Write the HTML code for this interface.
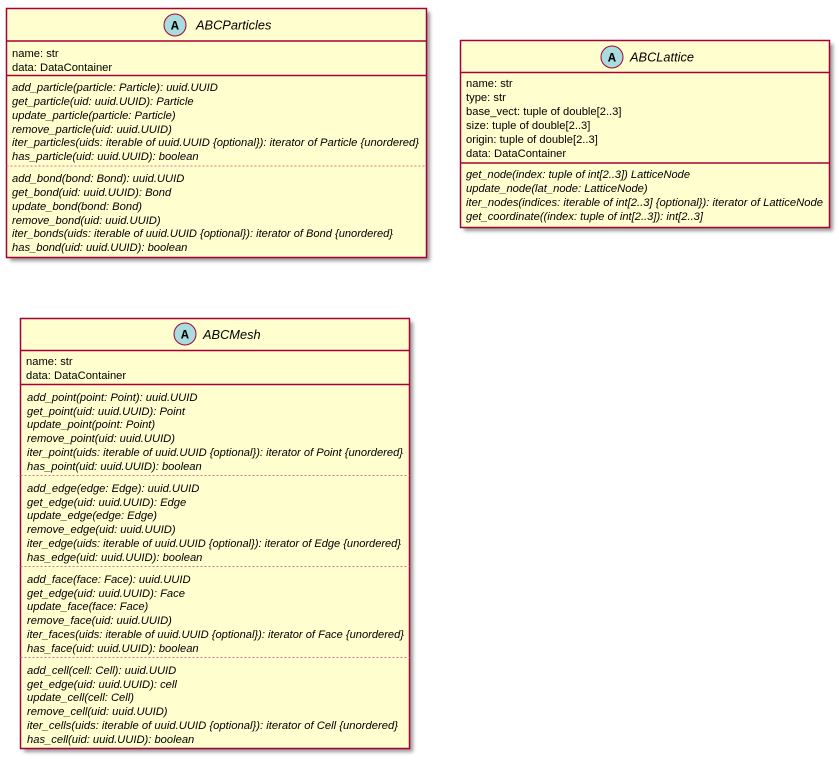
<!DOCTYPE html>
<html><head><meta charset="utf-8"><style>
html,body{margin:0;padding:0;background:#fff;width:839px;height:760px;overflow:hidden}
svg{display:block}
text{font-family:"Liberation Sans",sans-serif;font-size:11.2px;fill:#000}
.i{font-style:italic}
.t{font-size:12.8px;font-style:italic}
.a{font-family:"Liberation Mono",monospace;font-weight:bold;font-size:13px}
.d{stroke:#D9708E;stroke-width:1;stroke-dasharray:2,2}
</style></head><body>
<svg width="839" height="760" viewBox="0 0 839 760" xmlns="http://www.w3.org/2000/svg">
<defs><filter id="sh" x="-5%" y="-5%" width="115%" height="115%"><feGaussianBlur stdDeviation="1.8"/></filter></defs>
<rect x="10" y="12" width="420" height="249" fill="#999" filter="url(#sh)"/>
<rect x="464" y="44" width="369" height="187" fill="#999" filter="url(#sh)"/>
<rect x="24" y="322" width="389" height="430" fill="#999" filter="url(#sh)"/>

<!-- ABCParticles -->
<rect x="6.5" y="8.5" width="420" height="249" fill="#FEFECE" stroke="#A80036" stroke-width="1.5"/>
<circle cx="175" cy="25" r="11" fill="#A9DCDF" stroke="#A80036" stroke-width="1"/>
<text class="a" x="171" y="29.5">A</text>
<text class="t" x="196" y="29.5">ABCParticles</text>
<line x1="6.5" y1="41" x2="426.5" y2="41" stroke="#A80036" stroke-width="1.5"/>
<text x="12" y="57">name: str</text>
<text x="12" y="71">data: DataContainer</text>
<line x1="6.5" y1="75.5" x2="426.5" y2="75.5" stroke="#A80036" stroke-width="1.5"/>
<text class="i" x="12" y="91">add_particle(particle: Particle): uuid.UUID</text>
<text class="i" x="12" y="105">get_particle(uid: uuid.UUID): Particle</text>
<text class="i" x="12" y="119">update_particle(particle: Particle)</text>
<text class="i" x="12" y="133">remove_particle(uid: uuid.UUID)</text>
<text class="i" x="12" y="146" textLength="407" lengthAdjust="spacingAndGlyphs">iter_particles(uids: iterable of uuid.UUID {optional}): iterator of Particle {unordered}</text>
<text class="i" x="12" y="160">has_particle(uid: uuid.UUID): boolean</text>
<line x1="6.5" y1="166" x2="426.5" y2="166" class="d"/>
<text class="i" x="12" y="182">add_bond(bond: Bond): uuid.UUID</text>
<text class="i" x="12" y="196">get_bond(uid: uuid.UUID): Bond</text>
<text class="i" x="12" y="210">update_bond(bond: Bond)</text>
<text class="i" x="12" y="224">remove_bond(uid: uuid.UUID)</text>
<text class="i" x="12" y="237" textLength="381" lengthAdjust="spacingAndGlyphs">iter_bonds(uids: iterable of uuid.UUID {optional}): iterator of Bond {unordered}</text>
<text class="i" x="12" y="251">has_bond(uid: uuid.UUID): boolean</text>

<!-- ABCLattice -->
<rect x="460.5" y="40.5" width="369" height="187" fill="#FEFECE" stroke="#A80036" stroke-width="1.5"/>
<circle cx="612" cy="57" r="11" fill="#A9DCDF" stroke="#A80036" stroke-width="1"/>
<text class="a" x="608" y="61.5">A</text>
<text class="t" x="630" y="61.5">ABCLattice</text>
<line x1="460.5" y1="72.5" x2="829.5" y2="72.5" stroke="#A80036" stroke-width="1.5"/>
<text x="466" y="87">name: str</text>
<text x="466" y="101">type: str</text>
<text x="466" y="115">base_vect: tuple of double[2..3]</text>
<text x="466" y="129">size: tuple of double[2..3]</text>
<text x="466" y="143">origin: tuple of double[2..3]</text>
<text x="466" y="157">data: DataContainer</text>
<line x1="460.5" y1="163" x2="829.5" y2="163" stroke="#A80036" stroke-width="1.5"/>
<text class="i" x="466" y="178" textLength="224" lengthAdjust="spacingAndGlyphs">get_node(index: tuple of int[2..3]) LatticeNode</text>
<text class="i" x="466" y="192">update_node(lat_node: LatticeNode)</text>
<text class="i" x="466" y="206" textLength="357" lengthAdjust="spacingAndGlyphs">iter_nodes(indices: iterable of int[2..3] {optional}): iterator of LatticeNode</text>
<text class="i" x="466" y="220" textLength="237" lengthAdjust="spacingAndGlyphs">get_coordinate((index: tuple of int[2..3]): int[2..3]</text>

<!-- ABCMesh -->
<rect x="20.5" y="318.5" width="389" height="430" fill="#FEFECE" stroke="#A80036" stroke-width="1.5"/>
<circle cx="185" cy="334" r="11" fill="#A9DCDF" stroke="#A80036" stroke-width="1"/>
<text class="a" x="181" y="338.5">A</text>
<text class="t" x="203" y="339">ABCMesh</text>
<line x1="20.5" y1="350.5" x2="409.5" y2="350.5" stroke="#A80036" stroke-width="1.5"/>
<text x="26" y="365">name: str</text>
<text x="26" y="379">data: DataContainer</text>
<line x1="20.5" y1="384.5" x2="409.5" y2="384.5" stroke="#A80036" stroke-width="1.5"/>
<text class="i" x="27" y="401">add_point(point: Point): uuid.UUID</text>
<text class="i" x="27" y="415">get_point(uid: uuid.UUID): Point</text>
<text class="i" x="27" y="428">update_point(point: Point)</text>
<text class="i" x="27" y="442">remove_point(uid: uuid.UUID)</text>
<text class="i" x="27" y="456" textLength="376" lengthAdjust="spacingAndGlyphs">iter_point(uids: iterable of uuid.UUID {optional}): iterator of Point {unordered}</text>
<text class="i" x="27" y="470">has_point(uid: uuid.UUID): boolean</text>
<line x1="20.5" y1="475.5" x2="409.5" y2="475.5" class="d"/>
<text class="i" x="27" y="492">add_edge(edge: Edge): uuid.UUID</text>
<text class="i" x="27" y="506">get_edge(uid: uuid.UUID): Edge</text>
<text class="i" x="27" y="519">update_edge(edge: Edge)</text>
<text class="i" x="27" y="533">remove_edge(uid: uuid.UUID)</text>
<text class="i" x="27" y="547" textLength="374" lengthAdjust="spacingAndGlyphs">iter_edge(uids: iterable of uuid.UUID {optional}): iterator of Edge {unordered}</text>
<text class="i" x="27" y="561">has_edge(uid: uuid.UUID): boolean</text>
<line x1="20.5" y1="566.5" x2="409.5" y2="566.5" class="d"/>
<text class="i" x="27" y="583">add_face(face: Face): uuid.UUID</text>
<text class="i" x="27" y="597">get_edge(uid: uuid.UUID): Face</text>
<text class="i" x="27" y="610">update_face(face: Face)</text>
<text class="i" x="27" y="624">remove_face(uid: uuid.UUID)</text>
<text class="i" x="27" y="638" textLength="377" lengthAdjust="spacingAndGlyphs">iter_faces(uids: iterable of uuid.UUID {optional}): iterator of Face {unordered}</text>
<text class="i" x="27" y="652">has_face(uid: uuid.UUID): boolean</text>
<line x1="20.5" y1="657.5" x2="409.5" y2="657.5" class="d"/>
<text class="i" x="27" y="674">add_cell(cell: Cell): uuid.UUID</text>
<text class="i" x="27" y="688">get_edge(uid: uuid.UUID): cell</text>
<text class="i" x="27" y="701">update_cell(cell: Cell)</text>
<text class="i" x="27" y="715">remove_cell(uid: uuid.UUID)</text>
<text class="i" x="27" y="729" textLength="371" lengthAdjust="spacingAndGlyphs">iter_cells(uids: iterable of uuid.UUID {optional}): iterator of Cell {unordered}</text>
<text class="i" x="27" y="743">has_cell(uid: uuid.UUID): boolean</text>
</svg>
</body></html>
